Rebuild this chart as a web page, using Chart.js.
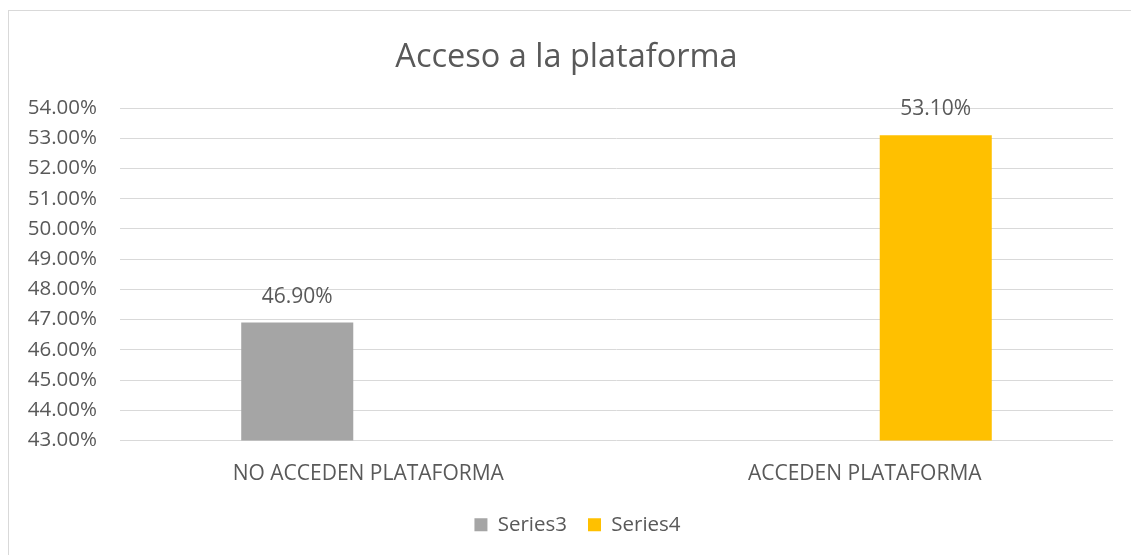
<!DOCTYPE html>
<html><head><meta charset="utf-8">
<script src="https://cdn.jsdelivr.net/npm/chart.js@4"></script>
<style>
html,body{margin:0;padding:0;background:#fff;overflow:hidden}
#wrap{position:absolute;left:0;top:0;width:1131px;height:555px}
#frame{position:absolute;left:8px;top:10px;width:1200px;height:600px;border:1px solid #d9d9d9;box-sizing:border-box}
canvas{position:absolute;left:0;top:0}
</style></head>
<body>
<div id="wrap"><div id="frame"></div><canvas id="c" width="1131" height="555"></canvas></div>
<script>
const categories = ["NO ACCEDEN PLATAFORMA", "ACCEDEN PLATAFORMA"];
const seriesNames = ["Series3", "Series4"];
const series3 = [46.9, null];
const series4 = [null, 53.1];
const yMin = 43, yMax = 54, yStep = 1;
const titleText = "Acceso a la plataforma";

const FONT = "'Open Sans', sans-serif";
const TXT = "#595959";

const valueLabels = {
  id: 'valueLabels',
  afterDatasetsDraw(chart) {
    const ctx = chart.ctx;
    ctx.save();
    ctx.font = "21px " + FONT;
    ctx.fillStyle = TXT;
    ctx.textAlign = 'center';
    ctx.textBaseline = 'middle';
    chart.data.datasets.forEach((ds, i) => {
      const meta = chart.getDatasetMeta(i);
      meta.data.forEach((bar, j) => {
        const v = ds.data[j];
        if (v == null) return;
        ctx.fillText(v.toFixed(2) + '%', bar.x, bar.y - 26);
      });
    });
    ctx.restore();
  }
};

const legendShift = {
  id: 'legendShift',
  afterLayout(chart) {
    const l = chart.legend;
    if (l) { l.left += 11; l.right += 11; }
  }
};

new Chart(document.getElementById('c'), {
  type: 'bar',
  data: {
    labels: categories,
    datasets: [
      { label: seriesNames[0], data: series3, backgroundColor: '#a5a5a5', categoryPercentage: 0.572, barPercentage: 0.789, skipNull: false },
      { label: seriesNames[1], data: series4, backgroundColor: '#ffc000', categoryPercentage: 0.572, barPercentage: 0.789, skipNull: false }
    ]
  },
  options: {
    responsive: false,
    animation: false,
    layout: { padding: { left: 20, right: 18, top: 0, bottom: 10 } },
    plugins: {
      title: { display: true, text: titleText, color: TXT, font: { family: FONT, size: 32.5, weight: 'normal' }, padding: { top: 38, bottom: 31 } },
      legend: {
        position: 'bottom',
        labels: { color: TXT, font: { family: FONT, size: 20.5 }, boxWidth: 13, boxHeight: 13, padding: 21 }
      },
      tooltip: { enabled: false }
    },
    scales: {
      x: {
        grid: { display: false },
        border: { display: false },
        ticks: { color: TXT, font: { family: FONT, size: 21 }, padding: 13, maxRotation: 0 },
        afterFit(s) { s.height = 53; }
      },
      y: {
        min: yMin, max: yMax,
        grid: { color: '#d9d9d9', lineWidth: 1, drawTicks: false },
        border: { display: false },
        ticks: { stepSize: yStep, color: TXT, font: { family: FONT, size: 20.5 }, padding: 23,
          callback: v => v.toFixed(2) + '%' },
        afterFit(s) { s.width = 100; }
      }
    }
  },
  plugins: [valueLabels, legendShift]
});
</script>
</body></html>
